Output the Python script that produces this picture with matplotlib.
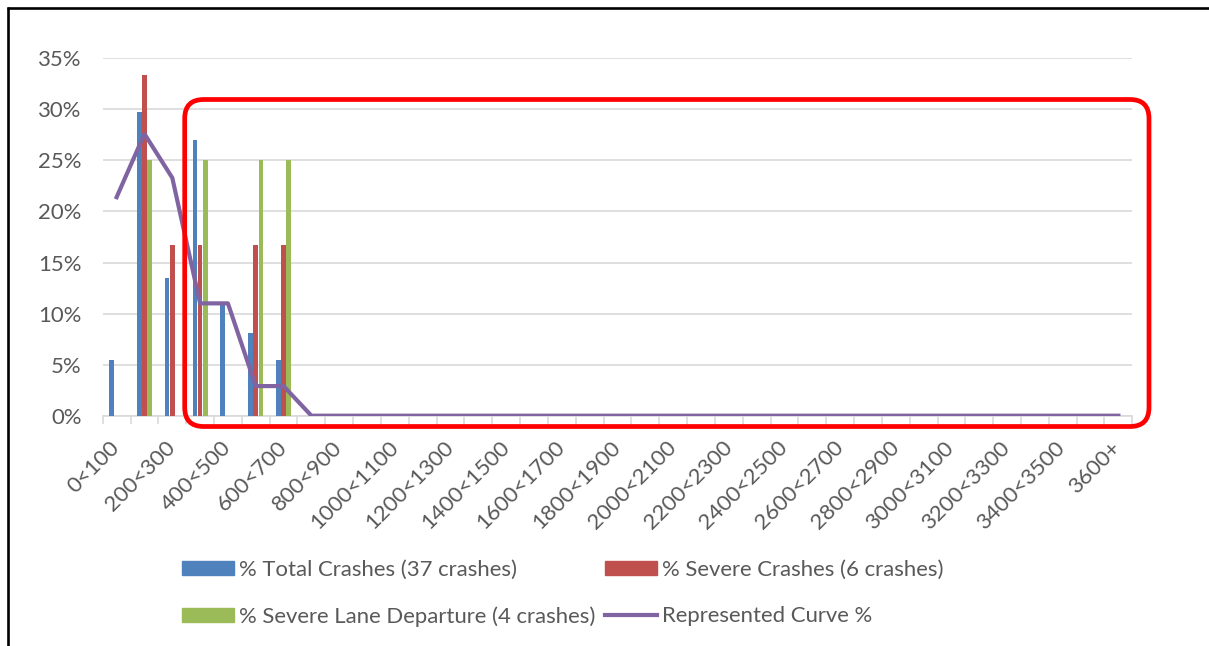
import matplotlib
matplotlib.use("Agg")
import matplotlib.pyplot as plt
from matplotlib.patches import FancyBboxPatch, Patch
from matplotlib.lines import Line2D
import numpy as np

plt.rcParams['font.family'] = ['Lato', 'DejaVu Sans']

categories = ["0<100", "100<200", "200<300", "300<400", "400<500", "500<600",
              "600<700", "700<800", "800<900", "900<1000", "1000<1100", "1100<1200",
              "1200<1300", "1300<1400", "1400<1500", "1500<1600", "1600<1700",
              "1700<1800", "1800<1900", "1900<2000", "2000<2100", "2100<2200",
              "2200<2300", "2300<2400", "2400<2500", "2500<2600", "2600<2700",
              "2700<2800", "2800<2900", "2900<3000", "3000<3100", "3100<3200",
              "3200<3300", "3300<3400", "3400<3500", "3500<3600", "3600+"]

total_crashes = [5.41, 29.73, 13.51, 27.03, 10.81, 8.11, 5.41, 0, 0, 0,
                 0, 0, 0, 0, 0, 0, 0, 0, 0, 0,
                 0, 0, 0, 0, 0, 0, 0, 0, 0, 0,
                 0, 0, 0, 0, 0, 0, 0]
severe_crashes = [0, 33.33, 16.67, 16.67, 0, 16.67, 16.67, 0, 0, 0,
                  0, 0, 0, 0, 0, 0, 0, 0, 0, 0,
                  0, 0, 0, 0, 0, 0, 0, 0, 0, 0,
                  0, 0, 0, 0, 0, 0, 0]
severe_lane_departure = [0, 25, 0, 25, 0, 25, 25, 0, 0, 0,
                         0, 0, 0, 0, 0, 0, 0, 0, 0, 0,
                         0, 0, 0, 0, 0, 0, 0, 0, 0, 0,
                         0, 0, 0, 0, 0, 0, 0]
represented_curve = [21.4, 27.6, 23.3, 11.0, 11.0, 2.9, 2.9, 0, 0, 0,
                     0, 0, 0, 0, 0, 0, 0, 0, 0, 0,
                     0, 0, 0, 0, 0, 0, 0, 0, 0, 0,
                     0, 0, 0, 0, 0, 0, 0]

series_labels = ["% Total Crashes (37 crashes)", "% Severe Crashes (6 crashes)",
                 "% Severe Lane Departure (4 crashes)", "Represented Curve %"]

BLUE = "#4F81BD"
RED = "#C0504D"
GREEN = "#9BBB59"
PURPLE = "#8064A2"
TXT = "#595959"
GRID = "#D9D9D9"
FS = 15.9

W, H = 1209, 646
fig = plt.figure(figsize=(W / 100, H / 100), dpi=100)
fig.patch.set_facecolor("white")

left, right, y0, y35 = 102.7, 1132.3, 415.7, 58.3
ax = fig.add_axes([left / W, 1 - y0 / H, (right - left) / W, (y0 - y35) / H])

x = np.arange(len(categories))
bw = 0.165
off = 0.185
ax.bar(x - off, total_crashes, bw, color=BLUE, zorder=3)
ax.bar(x, severe_crashes, bw, color=RED, zorder=3)
ax.bar(x + off, severe_lane_departure, bw, color=GREEN, zorder=3)
ax.plot(x, represented_curve, color=PURPLE, lw=3.0, zorder=4, solid_joinstyle='round')

ax.set_xlim(-0.5, len(categories) - 0.5)
ax.set_ylim(0, 35)
ax.set_yticks(np.arange(0, 36, 5))
ax.set_yticklabels([f"{v}%" for v in range(0, 36, 5)])
ax.yaxis.grid(True, color=GRID, lw=1.2, zorder=0)
ax.tick_params(axis='y', length=0, pad=15.3, labelsize=FS, labelcolor=TXT)

# boundary tick marks
ax.set_xticks(np.arange(-0.5, len(categories), 1.0))
ax.set_xticklabels([])
ax.tick_params(axis='x', which='major', length=6, width=1.2, color=GRID)
# labels on every other category
ax.set_xticks(x[::2], minor=True)
ax.set_xticklabels(categories[::2], minor=True, rotation=45, ha='right',
                   va='center', rotation_mode='anchor')
ax.tick_params(axis='x', which='minor', length=0, pad=20.5, labelsize=FS,
               labelcolor=TXT)

for s in ['top', 'right', 'left']:
    ax.spines[s].set_visible(False)
ax.spines['bottom'].set_color(GRID)
ax.spines['bottom'].set_linewidth(1.2)
ax.spines['bottom'].set_zorder(2)
ax.set_facecolor("none")

handles = [Patch(color=BLUE), Patch(color=GREEN), Patch(color=RED),
           Line2D([], [], color=PURPLE, lw=3.0)]
labs = [series_labels[0], series_labels[2], series_labels[1], series_labels[3]]
fig.legend(handles, labs, ncol=2, loc='upper left',
           bbox_to_anchor=(182 / W, 1 - 560 / H), frameon=False,
           fontsize=FS, labelcolor=TXT, borderpad=0, borderaxespad=0,
           handlelength=2.35, handleheight=0.62, handletextpad=0.25,
           columnspacing=0.42, labelspacing=1.2)

# overlay in pixel coordinates for annotation box and frame
ov = fig.add_axes([0, 0, 1, 1], zorder=10)
ov.set_xlim(0, W)
ov.set_ylim(0, H)
ov.axis('off')
ov.patch.set_alpha(0)
bx0, bx1, by0, by1 = 184.7, 1149.0, 99.5, 426.5
ov.add_patch(FancyBboxPatch((bx0, H - by1), bx1 - bx0, by1 - by0,
                            boxstyle="round,pad=0,rounding_size=19",
                            fill=False, ec="#FF0000", lw=3.4))
ov.plot([7, W], [H - 8, H - 8], color="black", lw=1.9, solid_capstyle='butt')
ov.plot([8, 8], [H - 7, 0], color="black", lw=1.9, solid_capstyle='butt')

fig.savefig("out.png", dpi=100)
